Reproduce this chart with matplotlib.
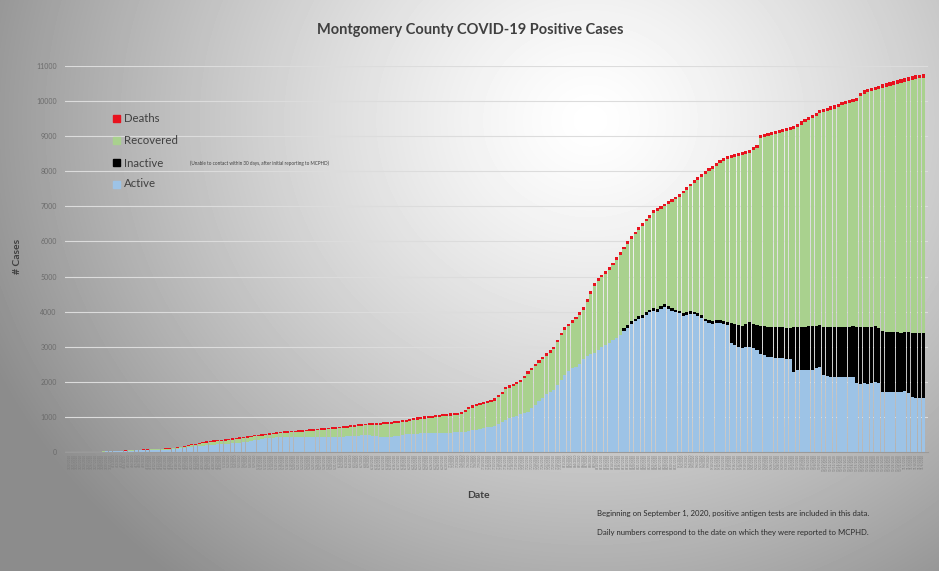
import numpy as np
import pandas as pd
import matplotlib
matplotlib.use("Agg")
import matplotlib.pyplot as plt
from matplotlib.patches import Rectangle

plt.rcParams["font.family"] = ["Lato", "DejaVu Sans"]

# Daily reported dates (one bar per day)
dates = pd.date_range("2020-03-20", periods=232, freq="D")
date_labels = [d.strftime("%-m/%-d/%Y") for d in dates]

# Cumulative positive cases (top of each stacked bar)
total = [
    1, 2, 3, 4, 5, 7, 9, 11, 14, 17,
    20, 24, 28, 33, 38, 44, 50, 57, 63, 68,
    72, 76, 80, 85, 90, 96, 103, 110, 125, 140,
    155, 175, 195, 215, 240, 262, 285, 300, 315, 330,
    340, 350, 362, 375, 388, 400, 415, 432, 450, 470,
    485, 498, 510, 525, 540, 552, 563, 575, 585, 595,
    603, 612, 620, 630, 640, 648, 657, 665, 675, 685,
    695, 703, 710, 722, 735, 748, 760, 772, 785, 800,
    812, 820, 826, 832, 838, 845, 850, 862, 875, 888,
    905, 925, 950, 970, 985, 1000, 1012, 1025, 1038, 1050,
    1062, 1075, 1088, 1100, 1112, 1125, 1140, 1200, 1280, 1330,
    1370, 1400, 1430, 1455, 1480, 1530, 1620, 1720, 1850, 1900,
    1950, 2000, 2050, 2180, 2300, 2400, 2520, 2620, 2720, 2820,
    2900, 3000, 3200, 3400, 3560, 3650, 3750, 3850, 3980, 4130,
    4350, 4580, 4810, 4950, 5050, 5160, 5270, 5400, 5550, 5700,
    5850, 6000, 6150, 6280, 6400, 6520, 6650, 6760, 6890, 6950,
    7020, 7080, 7140, 7200, 7280, 7350, 7450, 7550, 7650, 7740,
    7830, 7930, 8000, 8080, 8150, 8230, 8320, 8380, 8430, 8470,
    8500, 8530, 8560, 8590, 8600, 8680, 8750, 9030, 9060, 9090,
    9110, 9140, 9170, 9200, 9230, 9260, 9300, 9350, 9420, 9480,
    9540, 9600, 9670, 9740, 9780, 9810, 9850, 9880, 9930, 9970,
    10010, 10040, 10060, 10085, 10230, 10310, 10350, 10380, 10410, 10440,
    10480, 10510, 10540, 10560, 10590, 10620, 10650, 10680, 10710, 10740,
    10755, 10770,
]

active = [
    1, 2, 3, 4, 5, 6, 8, 10, 12, 14,
    16, 19, 22, 26, 30, 34, 38, 42, 45, 48,
    50, 52, 54, 56, 58, 60, 62, 64, 75, 88,
    100, 115, 130, 145, 160, 172, 182, 192, 200, 210,
    218, 225, 232, 240, 245, 250, 262, 275, 290, 310,
    330, 350, 365, 385, 400, 410, 418, 425, 430, 432,
    435, 435, 432, 430, 430, 428, 426, 428, 430, 430,
    432, 430, 430, 435, 440, 448, 455, 462, 470, 478,
    482, 480, 470, 455, 440, 430, 430, 440, 455, 470,
    485, 500, 510, 520, 525, 530, 535, 538, 540, 540,
    540, 545, 550, 555, 560, 565, 570, 580, 600, 620,
    640, 660, 680, 700, 710, 750, 800, 860, 910, 960,
    1000, 1040, 1080, 1110, 1150, 1250, 1350, 1450, 1550, 1650,
    1720, 1770, 1900, 2050, 2200, 2300, 2380, 2420, 2520, 2650,
    2750, 2800, 2820, 2900, 2980, 3050, 3120, 3190, 3260, 3330,
    3440, 3540, 3640, 3720, 3790, 3820, 3900, 3980, 4030, 3990,
    4070, 4130, 4080, 4020, 3980, 3950, 3880, 3910, 3940, 3920,
    3880, 3820, 3720, 3670, 3640, 3680, 3670, 3660, 3630, 3100,
    3050, 3000, 2950, 2980, 3000, 2950, 2900, 2800, 2760, 2720,
    2710, 2680, 2670, 2670, 2660, 2650, 2290, 2330, 2340, 2340,
    2330, 2340, 2400, 2430, 2190, 2180, 2150, 2140, 2150, 2140,
    2150, 2140, 2130, 1960, 1950, 1960, 1950, 1960, 1990, 1980,
    1720, 1710, 1720, 1720, 1710, 1720, 1730, 1680, 1560, 1540,
    1530, 1530,
]

inactive = [0] * 150 + [80] * 29 + [
    570, 600, 620, 650, 670, 700, 700, 720, 800, 820, 850,
    850, 880, 900, 890, 880, 890, 1260, 1230, 1230, 1230,
    1250, 1240, 1200, 1180, 1380, 1390, 1410, 1410, 1400, 1420,
    1420, 1420, 1460, 1610, 1610, 1610, 1610, 1610, 1590, 1540,
    1730, 1710, 1690, 1700, 1700, 1680, 1690, 1730, 1840, 1850,
    1860, 1860,
]

deaths = [
    0, 0, 0, 0, 0, 0, 0, 0, 0, 0,
    0, 0, 1, 1, 1, 2, 2, 2, 3, 3,
    4, 5, 6, 7, 8, 10, 12, 14, 16, 18,
    20, 22, 24, 26, 28, 30, 30, 32, 32, 34,
    34, 35, 35, 36, 36, 37, 37, 38, 38, 40,
    40, 40, 41, 41, 42, 42, 43, 43, 44, 44,
    45, 45, 46, 46, 47, 47, 48, 48, 49, 49,
    50, 50, 50, 51, 51, 52, 52, 53, 53, 54,
    54, 55, 55, 55, 56, 56, 56, 57, 57, 57,
    58, 58, 58, 59, 59, 59, 60, 60, 60, 61,
    61, 61, 62, 62, 62, 63, 63, 63, 64, 64,
    64, 65, 65, 65, 66, 66, 66, 67, 67, 67,
    68, 68, 68, 69, 69, 69, 70, 70, 70, 71,
    71, 71, 72, 72, 72, 73, 73, 73, 74, 74,
    74, 75, 75, 75, 76, 76, 76, 77, 77, 77,
    78, 78, 78, 79, 79, 79, 80, 80, 80, 80,
    81, 81, 81, 81, 82, 82, 82, 82, 83, 83,
    83, 83, 84, 84, 84, 84, 85, 85, 85, 85,
    86, 86, 86, 86, 87, 87, 87, 87, 88, 88,
    88, 88, 89, 89, 89, 89, 90, 90, 90, 90,
    91, 91, 91, 91, 92, 92, 92, 92, 93, 93,
    93, 93, 94, 94, 94, 94, 95, 95, 95, 95,
    96, 96, 96, 96, 97, 97, 97, 97, 98, 98,
    98, 98,
]

y_ticks = [0, 1000, 2000, 3000, 4000, 5000, 6000, 7000, 8000, 9000, 10000, 11000]

total = np.array(total)
active = np.array(active)
inactive = np.array(inactive)
deaths = np.array(deaths)
recovered = total - deaths - active - inactive

W, H = 939, 571
fig = plt.figure(figsize=(W / 100, H / 100), dpi=100)

# Radial gradient background, bright near the top centre
bg = fig.add_axes([0, 0, 1, 1], zorder=-10)
yy, xx = np.mgrid[0:H, 0:W]
dist = np.sqrt(((xx - 590) / 620.0) ** 2 + ((yy - 120) / 560.0) ** 2)
shade = np.clip(1.0 - 0.42 * dist ** 1.3, 0.55, 1.0)
bg.imshow(shade, cmap="gray", vmin=0, vmax=1, aspect="auto", extent=[0, W, H, 0])
bg.set_axis_off()

ax = fig.add_axes([65 / W, 119 / H, (928 - 65) / W, (452 - 66) / H])
ax.set_facecolor("none")

x = np.arange(len(total))
bw = 0.85
c_active = "#9dc3e6"
c_inactive = "#000000"
c_recovered = "#a9d18e"
c_deaths = "#e8121e"

ax.bar(x, active, width=bw, color=c_active, linewidth=0)
ax.bar(x, inactive, width=bw, bottom=active, color=c_inactive, linewidth=0)
ax.bar(x, recovered, width=bw, bottom=active + inactive, color=c_recovered, linewidth=0)
ax.bar(x, deaths, width=bw, bottom=active + inactive + recovered, color=c_deaths, linewidth=0)

ax.set_ylim(0, 11000)
ax.set_xlim(-1.35, 232.3)
ax.set_yticks(y_ticks)
ax.set_yticklabels([str(v) for v in y_ticks], fontsize=5, color="#6b6b6b")
ax.tick_params(axis="y", length=0, pad=6)
ax.yaxis.grid(True, color="#dcdcdc", linewidth=0.8)
ax.set_axisbelow(True)
for s in ["top", "right", "left"]:
    ax.spines[s].set_visible(False)
ax.spines["bottom"].set_color("#9a9a9a")
ax.spines["bottom"].set_linewidth(0.8)

ax.set_xticks(x)
ax.set_xticklabels(date_labels, rotation=90, fontsize=2.2, color="#7a7a7a")
ax.tick_params(axis="x", length=0, pad=1.5)

# Titles and labels
fig.text(470 / W, 1 - 30 / H, "Montgomery County COVID-19 Positive Cases",
         ha="center", va="center", fontsize=10.5, fontweight="bold", color="#404040")
fig.text(18 / W, 1 - 256 / H, "# Cases", rotation=90, ha="center", va="center",
         fontsize=7.5, fontweight="bold", color="#404040")
fig.text(478 / W, 1 - 495 / H, "Date", ha="center", va="center",
         fontsize=7.5, fontweight="bold", color="#404040")
fig.text(597 / W, 1 - 513 / H,
         "Beginning on September 1, 2020, positive antigen tests are included in this data.",
         ha="left", va="center", fontsize=5.6, color="#2b2b2b")
fig.text(597 / W, 1 - 532 / H,
         "Daily numbers correspond to the date on which they were reported to MCPHD.",
         ha="left", va="center", fontsize=5.6, color="#2b2b2b")

# Legend drawn by hand
legend_items = [("Deaths", c_deaths, 118), ("Recovered", c_recovered, 140),
                ("Inactive", c_inactive, 163), ("Active", c_active, 184)]
for name, col, yp in legend_items:
    fig.patches.append(Rectangle((113 / W, 1 - (yp + 3.5) / H), 7 / W, 7 / H,
                                 transform=fig.transFigure, color=col))
    fig.text(124 / W, 1 - yp / H, name, ha="left", va="center",
             fontsize=8.2, color="#404040")
fig.text(190 / W, 1 - 163 / H,
         "(Unable to contact within 30 days, after initial reporting to MCPHD)",
         ha="left", va="center", fontsize=3.3, color="#404040")

fig.savefig("out.png", dpi=100)
plt.close(fig)
